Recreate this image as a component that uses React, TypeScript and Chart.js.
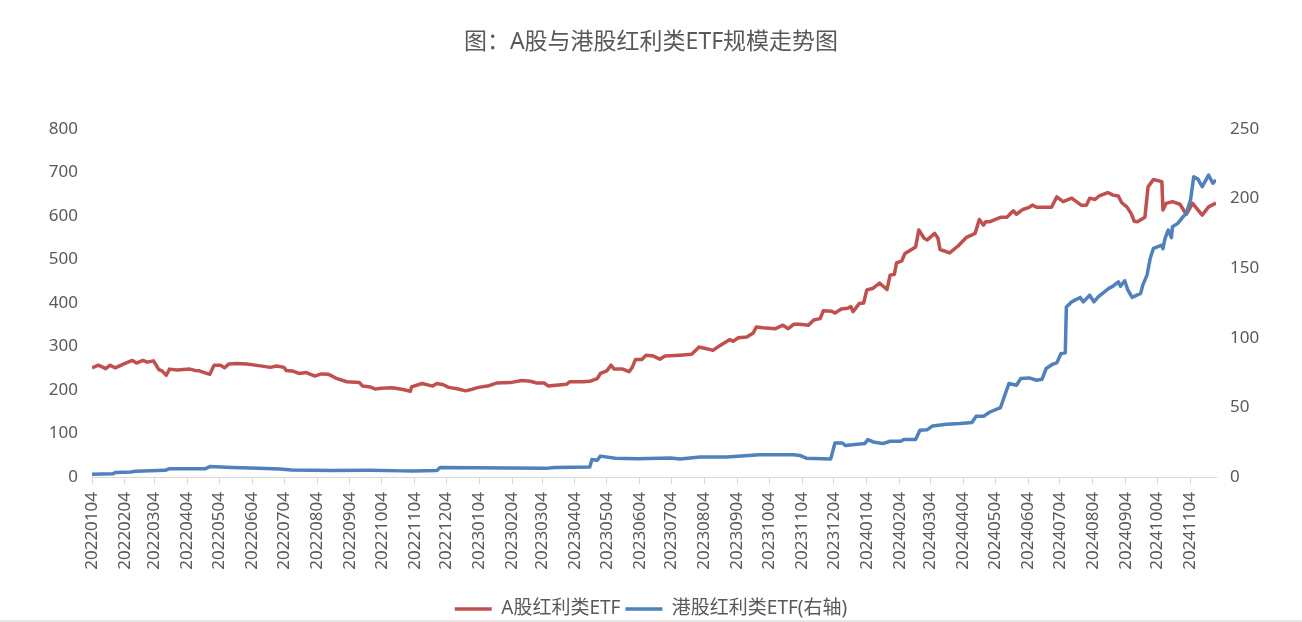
import { useEffect, useRef } from "react";
import { Chart, registerables } from "chart.js";
Chart.register(...registerables);

const FONT = '"Noto Sans", "Noto Sans CJK SC", sans-serif';
const TXT = "#595959";

const xTickLabels = [
  "20220104", "20220204", "20220304", "20220404", "20220504", "20220604", "20220704", "20220804", "20220904", "20221004", "20221104", "20221204",
  "20230104", "20230204", "20230304", "20230404", "20230504", "20230604", "20230704", "20230804", "20230904", "20231004", "20231104", "20231204",
  "20240104", "20240204", "20240304", "20240404", "20240504", "20240604", "20240704", "20240804", "20240904", "20241004", "20241104",
];
const lastDate = "20241128";

// A股红利类ETF (left axis)
const aDates = [
  "20220104", "20220110", "20220117", "20220121", "20220126", "20220202", "20220211", "20220215", "20220221", "20220225",
  "20220303", "20220308", "20220311", "20220315", "20220318", "20220325", "20220406", "20220411", "20220415", "20220425",
  "20220429", "20220505", "20220509", "20220513", "20220520", "20220530", "20220610", "20220621", "20220627", "20220704",
  "20220706", "20220713", "20220718", "20220725", "20220802", "20220808", "20220815", "20220823", "20220901", "20220913",
  "20220916", "20220923", "20220928", "20221003", "20221014", "20221024", "20221031", "20221101", "20221111", "20221121",
  "20221125", "20221201", "20221206", "20221214", "20221222", "20221227", "20230103", "20230113", "20230120", "20230202",
  "20230213", "20230221", "20230227", "20230306", "20230310", "20230317", "20230327", "20230330", "20230412", "20230418",
  "20230425", "20230428", "20230504", "20230508", "20230511", "20230519", "20230525", "20230528", "20230531", "20230606",
  "20230610", "20230617", "20230623", "20230628", "20230712", "20230723", "20230730", "20230806", "20230812", "20230818",
  "20230828", "20230831", "20230905", "20230913", "20230919", "20230922", "20230928", "20231010", "20231017", "20231022",
  "20231027", "20231102", "20231110", "20231115", "20231121", "20231124", "20231202", "20231205", "20231211", "20231217",
  "20231220", "20231222", "20231228", "20240101", "20240104", "20240110", "20240116", "20240123", "20240126", "20240130",
  "20240201", "20240206", "20240209", "20240219", "20240222", "20240227", "20240301", "20240308", "20240311", "20240313",
  "20240322", "20240330", "20240407", "20240415", "20240419", "20240423", "20240425", "20240429", "20240509", "20240515",
  "20240521", "20240524", "20240530", "20240605", "20240608", "20240612", "20240621", "20240626", "20240701", "20240707",
  "20240715", "20240724", "20240729", "20240801", "20240806", "20240810", "20240818", "20240823", "20240828", "20240831",
  "20240905", "20240909", "20240912", "20240915", "20240922", "20240925", "20240930", "20241008", "20241009", "20241012",
  "20241018", "20241025", "20241031", "20241106", "20241115", "20241121", "20241128",
];
const aValues = [
  251, 257, 249, 257, 251, 259, 268, 262, 268, 264,
  267, 247, 244, 234, 248, 246, 248, 245, 244, 236,
  257, 257, 251, 260, 261, 260, 256, 252, 255, 252,
  245, 243, 238, 240, 232, 237, 236, 226, 219, 217,
  209, 207, 202, 204, 205, 201, 197, 207, 215, 209,
  215, 212, 206, 203, 198, 201, 206, 210, 216, 217,
  222, 220, 216, 216, 209, 211, 213, 219, 219, 220,
  226, 238, 244, 257, 248, 248, 242, 252, 270, 270,
  280, 278, 271, 278, 280, 282, 299, 295, 291, 301,
  316, 312, 320, 322, 331, 345, 343, 341, 349, 341,
  351, 351, 349, 361, 364, 382, 381, 377, 386, 388,
  392, 380, 399, 400, 430, 434, 446, 431, 464, 466,
  492, 497, 514, 529, 568, 549, 545, 560, 549, 523,
  515, 531, 551, 560, 592, 579, 587, 587, 597, 597,
  612, 604, 615, 620, 625, 620, 620, 620, 644, 633,
  641, 625, 625, 641, 638, 646, 654, 648, 646, 631,
  621, 606, 588, 587, 597, 667, 684, 679, 614, 629,
  633, 627, 604, 629, 602, 621, 630,
];

// 港股红利类ETF (right axis)
const hkDates = [
  "20220104", "20220124", "20220126", "20220210", "20220214", "20220314", "20220318", "20220421", "20220425", "20220516",
  "20220610", "20220630", "20220711", "20220818", "20220922", "20221024", "20221102", "20221125", "20221128", "20221230",
  "20230202", "20230307", "20230316", "20230418", "20230420", "20230425", "20230428", "20230512", "20230602", "20230703",
  "20230712", "20230731", "20230825", "20230925", "20231027", "20231102", "20231108", "20231201", "20231205", "20231212",
  "20231215", "20240102", "20240105", "20240110", "20240119", "20240126", "20240205", "20240208", "20240219", "20240223",
  "20240301", "20240306", "20240319", "20240401", "20240412", "20240416", "20240423", "20240429", "20240509", "20240513",
  "20240517", "20240524", "20240528", "20240605", "20240612", "20240617", "20240621", "20240627", "20240701", "20240705",
  "20240709", "20240710", "20240715", "20240723", "20240726", "20240801", "20240805", "20240809", "20240819", "20240823",
  "20240828", "20240830", "20240903", "20240906", "20240910", "20240918", "20240920", "20240924", "20240927", "20240930",
  "20241008", "20241009", "20241011", "20241014", "20241017", "20241018", "20241023", "20241028", "20241031", "20241104",
  "20241107", "20241111", "20241115", "20241121", "20241125", "20241128",
];
const hkValues = [
  2.0, 2.3, 3.3, 3.6, 4.2, 4.8, 6.0, 6.0, 7.5, 6.8,
  6.2, 5.8, 5.0, 4.7, 4.8, 4.4, 4.3, 4.6, 6.8, 6.6,
  6.4, 6.2, 6.8, 7.2, 12.5, 12.0, 15.0, 13.5, 13.2, 13.7,
  13.0, 14.4, 14.4, 16.0, 16.0, 15.5, 13.5, 13.0, 24.4, 24.4,
  22.6, 24.0, 26.9, 25.2, 24.0, 25.7, 25.7, 26.9, 26.9, 33.6,
  34.0, 36.7, 37.9, 38.4, 39.1, 43.6, 43.6, 46.7, 49.9, 58.7,
  67.2, 65.9, 70.7, 71.2, 69.5, 70.2, 77.9, 81.0, 82.0, 88.7,
  89.2, 122.2, 125.8, 129.0, 125.8, 130.6, 125.8, 129.4, 135.5, 137.1,
  140.2, 137.0, 141.0, 134.2, 129.0, 131.9, 137.8, 145.0, 157.0, 164.2,
  166.6, 164.0, 171.4, 177.4, 172.0, 179.8, 182.2, 187.0, 189.4, 199.0,
  215.7, 214.0, 208.5, 216.9, 211.0, 213.3,
];

// days since the first trading day on the axis
const dayIndex = (s: string) => {
  const t = Date.UTC(+s.slice(0, 4), +s.slice(4, 6) - 1, +s.slice(6, 8));
  return Math.round((t - Date.UTC(2022, 0, 4)) / 86400000);
};

export default function App() {
  const chartRef = useRef<HTMLCanvasElement>(null);
  const chartInst = useRef<Chart | null>(null);

  useEffect(() => {
    if (!chartRef.current) return;
    chartInst.current?.destroy();
    chartInst.current = new Chart(chartRef.current, {
      type: "line",
      data: {
        datasets: [
          {
            label: "A股红利类ETF",
            data: aDates.map((d, i) => ({ x: dayIndex(d), y: aValues[i] })),
            borderColor: "#C0504D",
            backgroundColor: "#C0504D",
            borderWidth: 3.5,
            pointRadius: 0,
            tension: 0,
            borderJoinStyle: "round",
            yAxisID: "y",
            order: 1,
          },
          {
            label: "港股红利类ETF(右轴)",
            data: hkDates.map((d, i) => ({ x: dayIndex(d), y: hkValues[i] })),
            borderColor: "#4F81BD",
            backgroundColor: "#4F81BD",
            borderWidth: 3.5,
            pointRadius: 0,
            tension: 0,
            borderJoinStyle: "round",
            yAxisID: "y1",
            order: 0,
          },
        ],
      },
      options: {
        animation: false,
        responsive: true,
        maintainAspectRatio: false,
        layout: { padding: { top: 0, left: 0, right: 0, bottom: -6.5 } },
        plugins: {
          title: {
            display: true,
            text: "图：A股与港股红利类ETF规模走势图",
            color: TXT,
            font: { family: FONT, size: 23, weight: "normal" },
            padding: { top: 28.7, bottom: 72.7 },
          },
          legend: {
            position: "bottom",
            labels: {
              usePointStyle: true,
              pointStyle: "line",
              pointStyleWidth: 37,
              padding: 5,
              color: TXT,
              font: { family: FONT, size: 19 },
              sort: (a, b) => a.datasetIndex - b.datasetIndex,
            },
          },
          tooltip: { enabled: false },
        },
        scales: {
          x: {
            type: "linear",
            position: "bottom",
            min: 0,
            max: dayIndex(lastDate),
            grid: { display: true, drawOnChartArea: false, drawTicks: true, tickLength: 7, color: "#d9d9d9" },
            border: { display: true, color: "#d9d9d9", width: 1 },
            afterBuildTicks: (s) => { s.ticks = xTickLabels.map((l) => ({ value: dayIndex(l) })); },
            afterFit: (s) => { s.height = 117.5; },
            ticks: {
              autoSkip: false,
              minRotation: 90,
              maxRotation: 90,
              padding: 8,
              color: TXT,
              font: { family: FONT, size: 17 },
              callback: (_v, i) => xTickLabels[i],
            },
          },
          y: {
            position: "left",
            min: 0,
            max: 800,
            grid: { display: false, drawTicks: false },
            border: { display: false },
            afterFit: (s) => { s.width = 92; },
            ticks: { stepSize: 100, padding: 14, color: TXT, font: { family: FONT, size: 17 } },
          },
          y1: {
            position: "right",
            min: 0,
            max: 250,
            grid: { display: false, drawTicks: false },
            border: { display: false },
            afterFit: (s) => { s.width = 86; },
            ticks: { stepSize: 50, padding: 14, color: TXT, font: { family: FONT, size: 17 } },
          },
        },
      },
    });
    return () => chartInst.current?.destroy();
  }, []);

  return (
    <div style={{ position: "absolute", left: 0, top: 0, width: 1302, height: 622, background: "#fff" }}>
      <canvas ref={chartRef} style={{ width: "100%", height: "100%" }} />
      <div style={{ position: "absolute", left: 0, top: 620, width: 1302, height: 2, background: "#ebe4e5" }} />
    </div>
  );
}
